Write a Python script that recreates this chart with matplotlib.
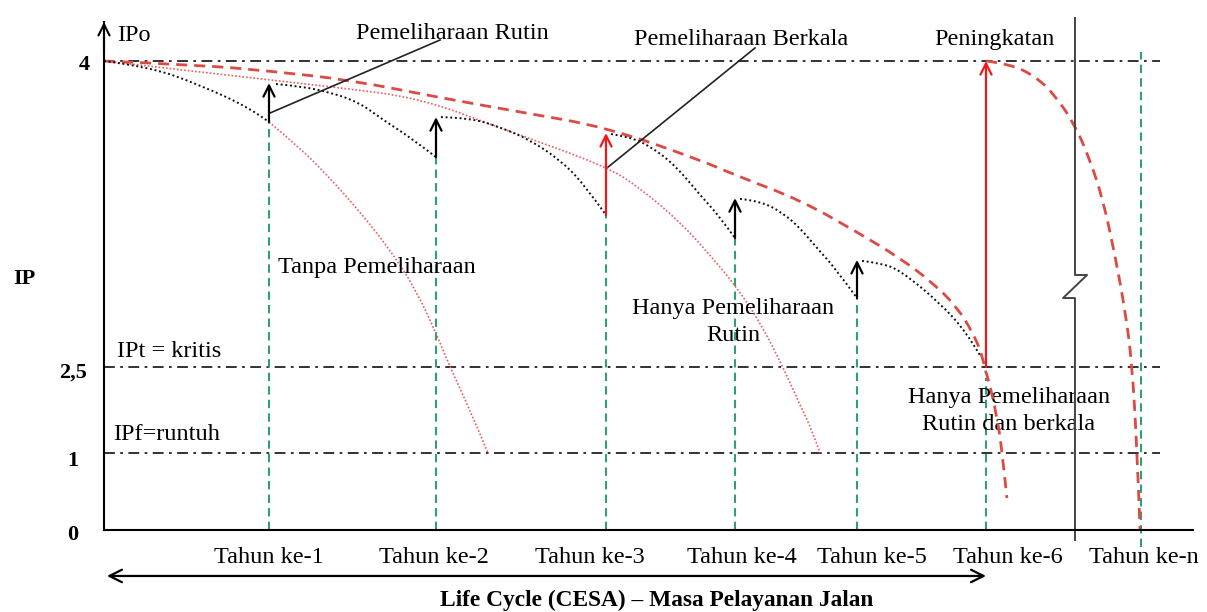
import numpy as np
import matplotlib
matplotlib.use("Agg")
import matplotlib.pyplot as plt
from matplotlib.transforms import ScaledTranslation
from matplotlib.path import Path
from matplotlib.patches import PathPatch

plt.rcParams['font.family'] = ['Liberation Serif', 'DejaVu Serif']

# ---------------- data (years on x, IP on y) ----------------
ip_ticks = [0, 1, 2.5, 4]
ip_tick_labels = ['0', '1', '2,5', '4']
year_ticks = [1, 2, 3, 4, 5, 6, 7]
year_labels = ['Tahun ke-1', 'Tahun ke-2', 'Tahun ke-3', 'Tahun ke-4',
               'Tahun ke-5', 'Tahun ke-6', 'Tahun ke-n']
threshold_ip = [4, 2.5, 1]

# green year lines: top (IP) of each line
green_years = [1, 2, 3, 4, 5, 6, 7]
green_top = [3.701, 3.529, 3.245, 3.132, 2.838, 2.30, 4.044]
green_bottom = [0, 0, 0, 0, 0, 0, -0.22]

# black dotted saw-tooth (routine maintenance)
seg0_year = [0, 0.279, 0.582, 0.885, 1.0]
seg0_ip = [4.0, 3.971, 3.882, 3.770, 3.701]
seg1_year = [1.042, 1.186, 1.383, 1.545, 1.683, 1.844, 2.0]
seg1_ip = [3.887, 3.877, 3.843, 3.794, 3.711, 3.627, 3.529]
seg2_year = [2.029, 2.2, 2.376, 2.553, 2.729, 2.865, 3.0]
seg2_ip = [3.725, 3.721, 3.676, 3.613, 3.515, 3.402, 3.245]
seg3_year = [3.039, 3.186, 3.341, 3.535, 3.729, 3.884, 4.0]
seg3_ip = [3.642, 3.627, 3.583, 3.490, 3.343, 3.235, 3.132]
seg4_year = [4.041, 4.205, 4.393, 4.533, 4.672, 4.820, 5.0]
seg4_ip = [3.324, 3.314, 3.255, 3.181, 3.083, 2.985, 2.838]
seg5_year = [5.039, 5.178, 5.333, 5.643, 5.853, 5.961]
seg5_ip = [3.020, 3.010, 2.975, 2.814, 2.667, 2.549]

# maintenance arrows
arrow_year = [1, 2, 3, 4, 5, 6]
arrow_from = [3.701, 3.529, 3.245, 3.132, 2.838, 2.5]
arrow_to = [3.892, 3.725, 3.647, 3.328, 3.025, 4.0]
arrow_kind = ['rutin', 'rutin', 'berkala', 'rutin', 'rutin', 'peningkatan']

# red dashed: routine + periodic maintenance envelope
env_year = [0, 0.582, 1.0, 1.485, 2.0, 2.494, 3.0, 3.729, 4.0, 4.533, 5.0,
            5.333, 5.589, 5.775, 5.899, 5.977, 6.013, 6.071, 6.103, 6.135]
env_ip = [4.0, 3.980, 3.951, 3.907, 3.824, 3.750, 3.676, 3.515, 3.441, 3.319,
          3.162, 3.034, 2.912, 2.794, 2.667, 2.549, 2.326, 1.628, 1.052, 0.416]

# red dashed after upgrade (peningkatan)
pen_year = [6.0, 6.155, 6.316, 6.445, 6.574, 6.671, 6.755, 6.832, 6.897,
            6.942, 6.974, 6.994]
pen_ip = [4.0, 3.985, 3.926, 3.833, 3.686, 3.515, 3.319, 3.049, 2.779,
          2.520, 1.105, 0.0]

# red dotted: without maintenance
tanpa_year = [1.0, 1.186, 1.365, 1.545, 1.725, 1.874, 2.0, 2.082, 2.2, 2.306]
tanpa_ip = [3.701, 3.574, 3.426, 3.260, 3.074, 2.887, 2.667, 2.5, 1.750, 1.0]

# red dotted: routine maintenance only
rutin_year = [0, 0.582, 1.383, 1.904, 2.376, 3.0, 3.264, 3.574, 3.806, 4.0,
              4.205, 4.393, 4.533, 4.631, 4.697]
rutin_ip = [4.0, 3.946, 3.873, 3.819, 3.672, 3.485, 3.377, 3.211, 3.049,
            2.902, 2.721, 2.5, 1.837, 1.401, 1.0]

# leader lines
leader_rutin_year = [1.006, 2.024]
leader_rutin_ip = [3.745, 4.103]
leader_berkala_year = [3.016, 4.164]
leader_berkala_ip = [3.480, 4.064]

# axis break symbol
break_year = [6.574, 6.574, 6.652, 6.497, 6.574, 6.574]
break_ip = [4.211, 2.951, 2.951, 2.838, 2.838, -0.13]

# ---------------- non-uniform layout of the diagram ----------------
YEAR_KNOTS = [0, 1, 2, 3, 4, 5, 6, 7]
YEAR_PX = [104, 269, 436, 606, 735, 857, 986, 1141]
IP_KNOTS = [0, 1, 2.5, 4]
IP_PX = [82, 159, 245, 551]
W, H = 1207, 612


def piecewise(xk, yk):
    xk = np.asarray(xk, float)
    yk = np.asarray(yk, float)
    s0 = (yk[1] - yk[0]) / (xk[1] - xk[0])
    s1 = (yk[-1] - yk[-2]) / (xk[-1] - xk[-2])

    def f(v):
        v = np.asarray(v, float)
        out = np.interp(v, xk, yk)
        out = np.where(v < xk[0], yk[0] + (v - xk[0]) * s0, out)
        out = np.where(v > xk[-1], yk[-1] + (v - xk[-1]) * s1, out)
        return out
    return f


fx, fx_inv = piecewise(YEAR_KNOTS, YEAR_PX), piecewise(YEAR_PX, YEAR_KNOTS)
fy, fy_inv = piecewise(IP_KNOTS, IP_PX), piecewise(IP_PX, IP_KNOTS)

fig = plt.figure(figsize=(W / 100, H / 100), dpi=100)
ax = fig.add_axes([0, 0, 1, 1])
ax.set_xscale('function', functions=(fx, fx_inv))
ax.set_yscale('function', functions=(fy, fy_inv))
ax.set_xlim(float(fx_inv(0)), float(fx_inv(W)))
ax.set_ylim(float(fy_inv(0)), float(fy_inv(H)))

RED = '#dc4a44'
RED_DOT = '#f05a5a'
RED_ARROW = '#f01818'
GREEN = '#2f9f78'
FS = 17.5


def smooth_curve(xs, ys, **kw):
    """Draw a smooth quadratic-Bezier curve guided by the given points."""
    pts = np.column_stack([xs, ys]).astype(float)
    n = len(pts)
    verts = [pts[0]]
    codes = [Path.MOVETO]
    if n == 2:
        verts.append(pts[1])
        codes.append(Path.LINETO)
    else:
        for i in range(1, n - 1):
            end = pts[i + 1] if i == n - 2 else (pts[i] + pts[i + 1]) / 2
            verts += [pts[i], end]
            codes += [Path.CURVE3, Path.CURVE3]
    patch = PathPatch(Path(np.array(verts), codes), fill=False, **kw)
    ax.add_patch(patch)
    return patch


# spines as the diagram axes
for s in ['top', 'right']:
    ax.spines[s].set_visible(False)
ax.spines['left'].set_position(('data', 0))
ax.spines['bottom'].set_position(('data', 0))
ax.spines['left'].set_bounds(0, 4.19)
ax.spines['bottom'].set_bounds(0, 7.335)
for s in ['left', 'bottom']:
    ax.spines[s].set_linewidth(1.5)
    ax.spines[s].set_zorder(5)
ax.annotate('', xy=(0, 4.191), xytext=(0, 4.05),
            arrowprops=dict(arrowstyle='->,head_length=0.8,head_width=0.4',
                            lw=1.5, color='black', shrinkA=0, shrinkB=0))

# ticks
ax.set_yticks(ip_ticks, ip_tick_labels, fontsize=16, fontweight='bold')
ax.set_xticks(year_ticks, year_labels, fontsize=FS)
ax.tick_params(axis='both', length=0)
ax.tick_params(axis='x', pad=12)
ax.tick_params(axis='y', pad=22.5)
for lbl in ax.get_yticklabels():
    lbl.set_ha('center')
for lbl, (dx, dy) in zip(ax.get_yticklabels(), [(0, -3), (0, -6), (0, -3), (12, -2)]):
    lbl.set_transform(lbl.get_transform() + ScaledTranslation(dx / 100, dy / 100, fig.dpi_scale_trans))
for lbl, dx in zip(ax.get_xticklabels(), [0, -2, -16, 7, 15, 22, 3]):
    lbl.set_transform(lbl.get_transform() + ScaledTranslation(dx / 100, 0, fig.dpi_scale_trans))

ax.set_ylabel('IP', rotation=0, fontsize=16, fontweight='bold', va='center', ha='center')
ax.yaxis.set_label_coords(24 / W, 1 - 279 / H)
ax.set_xlabel('Life Cycle (CESA) – Masa Pelayanan Jalan', fontsize=16.8,
              fontweight='bold', va='center')
ax.xaxis.set_label_coords(657 / W, 1 - 600 / H)

# threshold dash-dot lines
ax.hlines(threshold_ip, 0, 7.123, colors='#222222', lw=1.3,
          linestyles=(0, (6, 3, 1.5, 3)), zorder=2)

# green year lines
ax.vlines(green_years, green_bottom, green_top, colors=GREEN, lw=1.5,
          linestyles=(0, (4, 2.5)), zorder=2)

# curves
smooth_curve(rutin_year, rutin_ip, edgecolor=RED_DOT, lw=1.2, ls=(0, (1, 1.2)), zorder=3)
smooth_curve(tanpa_year, tanpa_ip, edgecolor=RED_DOT, lw=1.2, ls=(0, (1, 1.2)), zorder=3)
smooth_curve(env_year, env_ip, edgecolor=RED, lw=2.0, ls=(0, (4, 2.5)), zorder=4)
smooth_curve(pen_year, pen_ip, edgecolor=RED, lw=2.0, ls=(0, (4, 2.5)), zorder=4)
for sx, sy in [(seg0_year, seg0_ip), (seg1_year, seg1_ip), (seg2_year, seg2_ip),
               (seg3_year, seg3_ip), (seg4_year, seg4_ip), (seg5_year, seg5_ip)]:
    smooth_curve(sx, sy, edgecolor='#111111', lw=1.4, ls=(0, (1, 1.4)), zorder=4)

# arrows
for x, a, b, k in zip(arrow_year, arrow_from, arrow_to, arrow_kind):
    c = 'black' if k == 'rutin' else RED_ARROW
    ax.annotate('', xy=(x, b), xytext=(x, a),
                arrowprops=dict(arrowstyle='->,head_length=0.8,head_width=0.4',
                                lw=1.6, color=c, shrinkA=0, shrinkB=0), zorder=6)

# leader lines and break symbol
ax.plot(leader_rutin_year, leader_rutin_ip, color='#222222', lw=1.2, zorder=5)
ax.plot(leader_berkala_year, leader_berkala_ip, color='#222222', lw=1.2, zorder=5)
ax.plot(break_year, break_ip, color='#444444', lw=1.4, zorder=5)

# life-cycle double arrow
ax.annotate('', xy=(6.0, -0.597), xytext=(0.018, -0.597), annotation_clip=False,
            arrowprops=dict(arrowstyle='<->,head_length=0.9,head_width=0.45',
                            lw=1.6, color='black', shrinkA=0, shrinkB=0))

# annotations
ax.text(0.079, 4.125, 'IPo', fontsize=FS, va='center', ha='left')
ax.text(2.094, 4.137, 'Pemeliharaan Rutin', fontsize=FS, va='center', ha='center')
ax.text(4.049, 4.103, 'Pemeliharaan Berkala', fontsize=FS, va='center', ha='center')
ax.text(6.052, 4.103, 'Peningkatan', fontsize=FS, va='center', ha='center')
ax.text(1.054, 2.99, 'Tanpa Pemeliharaan', fontsize=FS, va='center', ha='left')
ax.text(3.984, 2.721, 'Hanya Pemeliharaan\nRutin', fontsize=FS, va='center',
        ha='center', multialignment='center', linespacing=1.42)
ax.text(6.148, 1.733, 'Hanya Pemeliharaan\nRutin dan berkala', fontsize=FS,
        va='center', ha='center', multialignment='center', linespacing=1.38)
ax.text(0.079, 2.574, 'IPt = kritis', fontsize=FS, va='center', ha='left')
ax.text(0.055, 1.331, 'IPf=runtuh', fontsize=FS, va='center', ha='left')

fig.savefig('out.png', dpi=100, facecolor='white')
